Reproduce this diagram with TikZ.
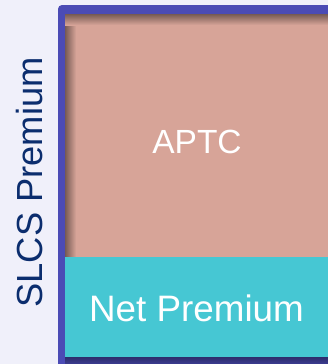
\documentclass[tikz,border=0pt]{standalone}
\usepackage{fontspec}
\setmainfont{Liberation Sans}
\definecolor{bgc}{HTML}{F0F0FA}
\definecolor{framec}{HTML}{4B4BB5}
\definecolor{salmonc}{HTML}{D7A498}
\definecolor{cyanc}{HTML}{46C7D3}
\definecolor{navyc}{HTML}{0B2D6E}
\begin{document}
\begin{tikzpicture}[x=1pt,y=-1pt,
  boxtext/.style={text=white, inner sep=0pt},
  sidetext/.style={text=navyc, inner sep=0pt, rotate=90}]
\useasboundingbox (0,0) rectangle (328,364);
\fill[bgc] (0,0) rectangle (328,364);
% frame
\fill[framec, rounded corners=4pt] (58,5) rectangle (345,380);
\shade[top color=framec!60!black, bottom color=framec!80!black] (65,357) rectangle (328,364);
% salmon area with inner shadow
\fill[salmonc] (65,14) rectangle (328,357);
\shade[left color=salmonc!55!black, right color=salmonc] (65,14) rectangle (76,257);
\shade[top color=salmonc!55!black, bottom color=salmonc] (76,14) rectangle (328,25);
\shade[top color=salmonc!55!black, bottom color=salmonc, shading angle=0] (65,14) rectangle (76,25);
% net premium box
\fill[cyanc] (65,257) rectangle (328,357);
\node[boxtext, font=\fontsize{33.5}{36}\selectfont] (aptc) at (197,142) {APTC};
\node[boxtext, font=\fontsize{36.8}{40}\selectfont] (net) at (196.5,308.5) {Net Premium};
\node[sidetext, font=\fontsize{36.3}{40}\selectfont] (slcs) at (30,182.5) {SLCS Premium};
\end{tikzpicture}
\end{document}
